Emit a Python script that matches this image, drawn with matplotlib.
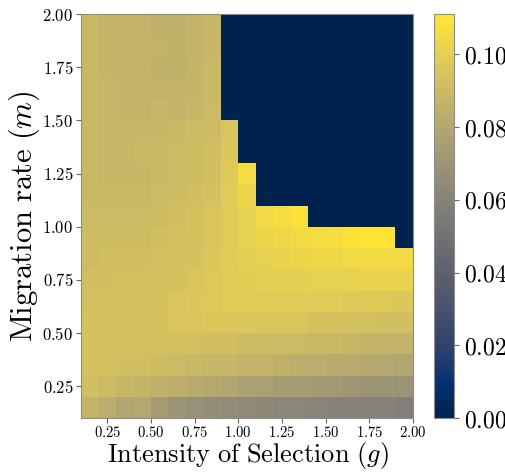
import numpy as np
import matplotlib
matplotlib.use("Agg")
import matplotlib.pyplot as plt
from matplotlib.ticker import FuncFormatter

plt.rcParams['mathtext.fontset'] = 'cm'
plt.rcParams['font.family'] = 'serif'

# grid edges (intensity of selection g, migration rate m)
g_edges = [0.1, 0.2, 0.3, 0.4, 0.5, 0.6, 0.7, 0.8, 0.9, 1.0,
           1.1, 1.2, 1.3, 1.4, 1.5, 1.6, 1.7, 1.8, 1.9, 2.0]
m_edges = [0.1, 0.2, 0.3, 0.4, 0.5, 0.6, 0.7, 0.8, 0.9, 1.0,
           1.1, 1.2, 1.3, 1.4, 1.5, 1.6, 1.7, 1.8, 1.9, 2.0]

# values x 1e-3, rows listed from top (m = 1.95) to bottom (m = 0.15)
vals = [
    [89, 87, 87, 86, 85, 85, 86, 88, 0, 0, 0, 0, 0, 0, 0, 0, 0, 0, 0],
    [89, 87, 87, 86, 86, 85, 86, 88, 0, 0, 0, 0, 0, 0, 0, 0, 0, 0, 0],
    [89, 87, 86, 86, 85, 85, 87, 89, 0, 0, 0, 0, 0, 0, 0, 0, 0, 0, 0],
    [89, 88, 87, 86, 86, 86, 87, 89, 0, 0, 0, 0, 0, 0, 0, 0, 0, 0, 0],
    [89, 88, 87, 87, 88, 87, 88, 90, 0, 0, 0, 0, 0, 0, 0, 0, 0, 0, 0],
    [89, 88, 88, 88, 88, 89, 90, 91, 95, 0, 0, 0, 0, 0, 0, 0, 0, 0, 0],
    [89, 88, 88, 89, 89, 90, 91, 92, 96, 0, 0, 0, 0, 0, 0, 0, 0, 0, 0],
    [89, 88, 88, 88, 89, 90, 91, 92, 97, 106, 0, 0, 0, 0, 0, 0, 0, 0, 0],
    [89, 89, 89, 89, 90, 91, 92, 94, 98, 103, 0, 0, 0, 0, 0, 0, 0, 0, 0],
    [90, 90, 90, 90, 91, 92, 94, 95, 98, 101, 105, 106, 108, 0, 0, 0, 0, 0, 0],
    [91, 91, 91, 91, 92, 93, 94, 95, 98, 101, 103, 104, 105, 106, 107, 108, 109, 109, 0],
    [91, 92, 92, 92, 93, 93, 94, 96, 98, 100, 101, 102, 103, 104, 104, 105, 105, 105, 105],
    [92, 92, 93, 93, 93, 94, 95, 97, 98, 99, 100, 100, 100, 101, 101, 101, 102, 102, 102],
    [93, 93, 93, 93, 94, 95, 96, 97, 98, 98, 98, 98, 98, 98, 98, 97, 97, 97, 96],
    [94, 94, 94, 94, 94, 95, 95, 96, 96, 96, 95, 95, 95, 94, 94, 93, 93, 92, 92],
    [94, 94, 94, 94, 93, 93, 93, 92, 92, 91, 91, 90, 90, 89, 89, 88, 87, 87, 86],
    [94, 93, 92, 92, 91, 90, 89, 88, 88, 86, 86, 85, 84, 83, 82, 82, 81, 80, 79],
    [92, 90, 88, 87, 85, 84, 82, 80, 79, 77, 76, 75, 74, 73, 72, 71, 70, 70, 69],
    [87, 83, 79, 80, 74, 70, 68, 66, 65, 64, 63, 62, 62, 61, 60, 60, 59, 59, 58],
]
Z = np.array(vals[::-1]) / 1000.0

fig = plt.figure(figsize=(5.06, 4.73), dpi=100)
ax = fig.add_axes([0.160, 0.116, 0.656, 0.854])
cax = fig.add_axes([0.858, 0.116, 0.040, 0.854])

mesh = ax.pcolormesh(g_edges, m_edges, Z, cmap='cividis', vmin=0.0, vmax=0.111)

ticks = [0.25, 0.5, 0.75, 1.0, 1.25, 1.5, 1.75, 2.0]
ax.set_xticks(ticks)
ax.set_yticks(ticks)
fmt = FuncFormatter(lambda v, p: r'$%.2f$' % v)
ax.xaxis.set_major_formatter(fmt)
ax.yaxis.set_major_formatter(fmt)
ax.tick_params(color='0.4', pad=2)
ax.tick_params(axis='x', labelsize=10.5, pad=1.5)
ax.tick_params(axis='y', labelsize=12)
for s in ax.spines.values():
    s.set_color('0.55')

ax.set_xlabel(r'$\mathrm{Intensity\ of\ Selection\ }(g)$', fontsize=19)
ax.set_ylabel(r'$\mathrm{Migration\ rate\ }(m)$', fontsize=22)
ax.xaxis.set_label_coords(0.503, -0.055)
ax.yaxis.set_label_coords(-0.118, 0.5)

cb = fig.colorbar(mesh, cax=cax)
cb.set_ticks([0.0, 0.02, 0.04, 0.06, 0.08, 0.10])
cb.ax.yaxis.set_major_formatter(fmt)
cb.ax.tick_params(labelsize=17, color='0.4')
cb.outline.set_edgecolor('0.55')

fig.savefig('out.png', dpi=100)
